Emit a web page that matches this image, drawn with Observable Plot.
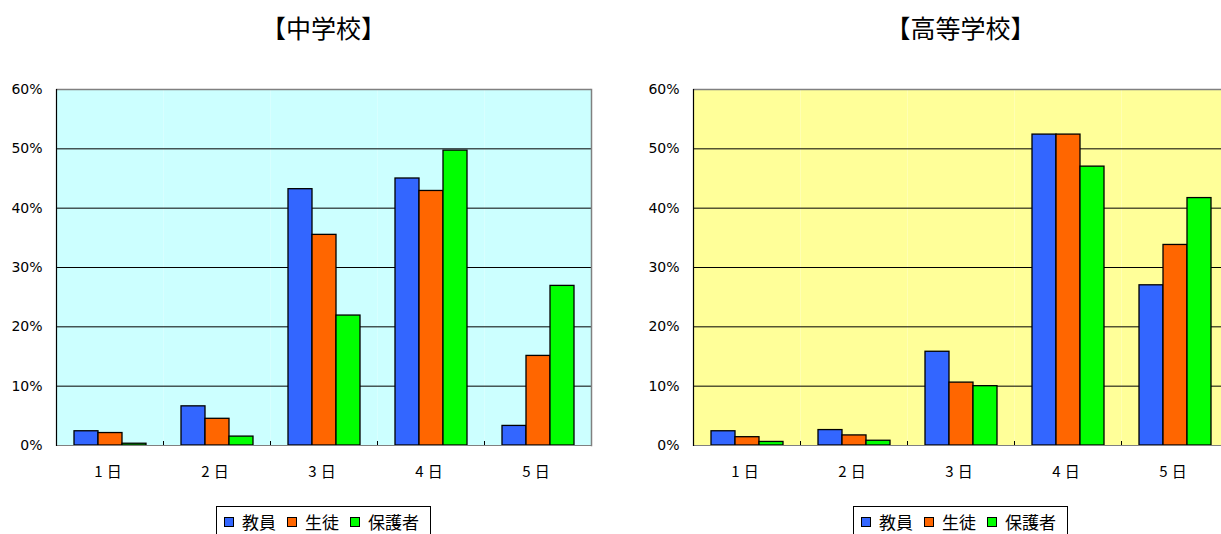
<!DOCTYPE html>
<html><head><meta charset="utf-8">
<script src="https://cdn.jsdelivr.net/npm/d3@7"></script>
<script src="https://cdn.jsdelivr.net/npm/@observablehq/plot@0.6"></script>
<style>
html,body{margin:0;padding:0}
body{width:1221px;height:534px;overflow:hidden;background:#fff;position:relative;font-family:"Noto Sans CJK JP","Noto Sans",sans-serif}
.chart{position:absolute;top:0;width:660px;height:534px}
.title{position:absolute;top:11px;width:300px;text-align:center;font-size:25px;font-weight:400;color:#000;line-height:32px}
.plotwrap{position:absolute;top:80px;left:0}
.legbox{position:absolute;top:506px;height:40px;border:1px solid #000;padding:0 11px 0 7px;background:#fff;display:flex;align-items:flex-start;white-space:nowrap}
.item{display:flex;align-items:center;margin-right:11px;font-size:17px;line-height:30px;color:#000}
.item:last-child{margin-right:0}
.sw{display:inline-block;width:8px;height:8px;border:1.5px solid #000;margin-right:8px}
g[aria-label="fx-axis tick label"] text{font-size:15px;letter-spacing:4px}
g[aria-label="y-axis tick label"] text{font-family:"DejaVu Sans",sans-serif;font-size:14px}
</style></head><body>
<div id="c1" class="chart" style="left:0"></div>
<div id="c2" class="chart" style="left:637px"></div>
<script>
const days = ["1日","2日","3日","4日","5日"];
const series = ["教員","生徒","保護者"];
const colors = ["#3366FF","#FF6600","#00FF00"];
const yTicks = [0,10,20,30,40,50,60];
const juniorTitle = "【中学校】";
const juniorTeachers = [2.4, 6.6, 43.2, 45.0, 3.3];
const juniorStudents = [2.1, 4.5, 35.5, 42.9, 15.1];
const juniorParents  = [0.3, 1.5, 21.9, 49.7, 26.9];
const highTitle = "【高等学校】";
const highTeachers = [2.4, 2.6, 15.8, 52.4, 27.0];
const highStudents = [1.4, 1.7, 10.6, 52.4, 33.8];
const highParents  = [0.6, 0.8, 10.0, 47.0, 41.7];

function draw(container, title, vals, bg) {
  const data = [];
  days.forEach((d, i) => series.forEach((s, j) => data.push({day: d, series: s, value: vals[j][i]})));
  const el = document.getElementById(container);
  const ml = 55, mr = 68, w = 660;
  const plotCenter = ml + (w - ml - mr) / 2;

  const t = document.createElement("div");
  t.className = "title";
  t.textContent = title;
  t.style.left = (plotCenter - 150) + "px";
  el.appendChild(t);

  const plot = Plot.plot({
    width: w, height: 400,
    marginTop: 9, marginLeft: ml, marginRight: mr, marginBottom: 35,
    style: {fontFamily: '"Noto Sans CJK JP","Noto Sans",sans-serif', fontSize: "14px", background: "transparent", color: "#000", overflow: "visible"},
    fx: {domain: days, padding: 0, label: null, axis: "bottom", tickSize: 0, tickPadding: 21},
    x: {domain: series, paddingInner: 0, paddingOuter: 0.71, axis: null},
    y: {domain: [0, 60], ticks: yTicks, tickFormat: d => d + "%", label: null, tickSize: 0, tickPadding: 14},
    color: {domain: series, range: colors},
    marks: [
      Plot.frame({fill: bg, stroke: null}),
      Plot.ruleY(yTicks.slice(1, -1), {stroke: "#000", strokeWidth: 1}),
      Plot.frame({anchor: "left", stroke: "#000", insetTop: 352}),
      Plot.barY(data, {fx: "day", x: "series", y: "value", fill: "series", stroke: "#000", strokeWidth: 1.3}),
      Plot.ruleY([60], {stroke: "#808080", strokeWidth: 1.5}),
      Plot.ruleY([0], {stroke: "#808080", strokeWidth: 1.2}),
      Plot.frame({anchor: "left", stroke: "#000", strokeWidth: 1.2, facet: "super"}),
      Plot.frame({anchor: "right", stroke: "#808080", strokeWidth: 1.5, facet: "super"})
    ]
  });
  const pw = document.createElement("div");
  pw.className = "plotwrap";
  pw.appendChild(plot);
  el.appendChild(pw);

  const lb = document.createElement("div");
  lb.className = "legbox";
  series.forEach((s, j) => {
    const it = document.createElement("span");
    it.className = "item";
    const sw = document.createElement("span");
    sw.className = "sw";
    sw.style.background = colors[j];
    it.appendChild(sw);
    it.appendChild(document.createTextNode(s));
    lb.appendChild(it);
  });
  el.appendChild(lb);
  const bw = lb.getBoundingClientRect().width;
  lb.style.left = (plotCenter - bw / 2) + "px";
}

draw("c1", juniorTitle, [juniorTeachers, juniorStudents, juniorParents], "#CCFFFF");
draw("c2", highTitle, [highTeachers, highStudents, highParents], "#FFFF99");
</script>
</body></html>
